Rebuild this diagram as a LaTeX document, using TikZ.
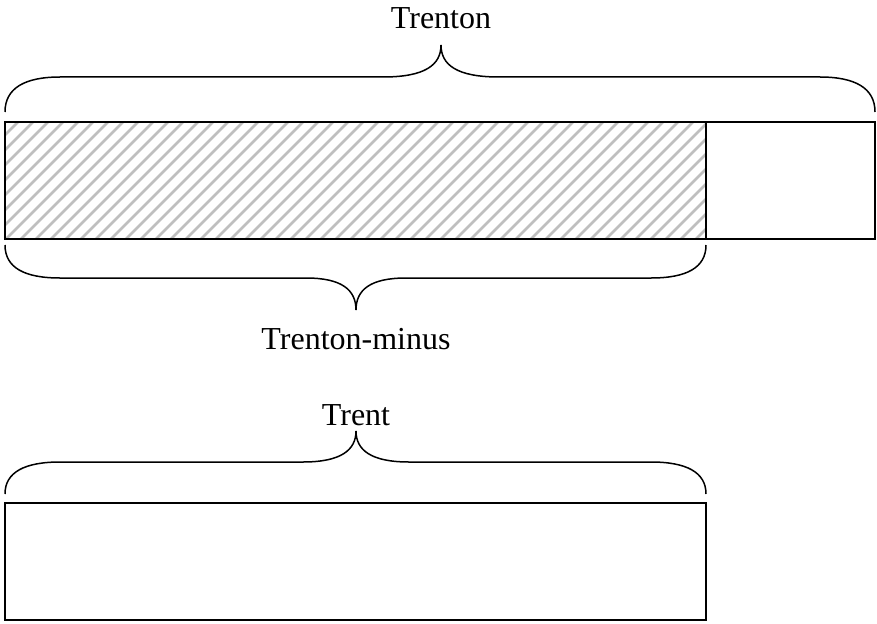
\documentclass[tikz,border=0pt]{standalone}
\usepackage{fontspec}
\setmainfont{Liberation Serif}
\begin{document}
\begin{tikzpicture}[x=1pt,y=-1pt,
  box/.style={draw=black,line width=1.6pt},
  hatch/.style={draw=black!25,line width=2.6pt},
  bracestyle/.style={draw=black,line width=1.5pt},
  lbl/.style={font=\fontsize{32}{38}\selectfont,anchor=base,inner sep=0pt}]
\useasboundingbox (0,0) rectangle (877,623);
% hatched part
\begin{scope}
  \clip (5,122) rectangle (706,239);
  \foreach \i in {-10,...,60} {
    \draw[hatch] ({\i*15},245) -- ({\i*15+130},115);
  }
\end{scope}
\draw[box] (5,122) rectangle (706,239);
\draw[box] (706,122) rectangle (875,239);
\draw[box] (5,503) rectangle (706,620);
% top brace (Trenton)
\coordinate (tl) at (5,112);
\coordinate (tr) at (875,112);
\coordinate (tt) at (441,45);
\draw[bracestyle] (tl) .. controls (5,88) and (25,77) .. (60,77) -- (383,77)
  .. controls (425,77) and (441,65) .. (tt)
  .. controls (441,65) and (457,77) .. (499,77) -- (820,77)
  .. controls (855,77) and (875,88) .. (tr);
\node[lbl] (trenton) at (441,29) {Trenton};
% bottom brace (Trenton-minus)
\coordinate (bl) at (5,245);
\coordinate (br) at (706,245);
\coordinate (bt) at (356,310);
\draw[bracestyle] (bl) .. controls (5,268) and (25,278) .. (60,278) -- (306,278)
  .. controls (342,278) and (356,290) .. (bt)
  .. controls (356,290) and (370,278) .. (406,278) -- (651,278)
  .. controls (686,278) and (706,268) .. (br);
\node[lbl] (minus) at (356,349) {Trenton-minus};
% Trent brace
\coordinate (cl) at (5,494);
\coordinate (cr) at (706,494);
\coordinate (ct) at (356,431);
\draw[bracestyle] (cl) .. controls (5,472) and (25,462) .. (60,462) -- (303,462)
  .. controls (341,462) and (356,450) .. (ct)
  .. controls (356,450) and (371,462) .. (409,462) -- (651,462)
  .. controls (686,462) and (706,472) .. (cr);
\node[lbl] (trent) at (356,425) {Trent};
\end{tikzpicture}
\end{document}
